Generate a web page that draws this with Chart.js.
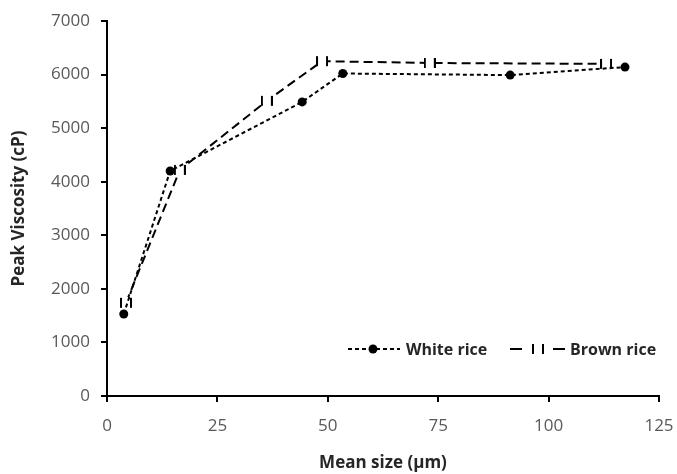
<!DOCTYPE html>
<html>
<head>
<meta charset="utf-8">
<script src="https://cdn.jsdelivr.net/npm/chart.js@4/dist/chart.umd.min.js"></script>
<style>
html,body{margin:0;padding:0;background:#fff;}
#wrap{width:677px;height:474px;position:relative;}
</style>
</head>
<body>
<div id="wrap"><canvas id="c" width="677" height="474"></canvas></div>
<script>
const seriesNames = ["White rice", "Brown rice"];
const whiteX = [3.8, 14.3, 44.2, 53.4, 91.3, 117.3];
const whiteY = [1530, 4200, 5490, 6020, 5990, 6140];
const brownX = [4.3, 16.5, 36.2, 48.7, 73.1, 113.0];
const brownY = [1740, 4220, 5510, 6250, 6216, 6200];
const xTicks = [0, 25, 50, 75, 100, 125];
const yTicks = [0, 1000, 2000, 3000, 4000, 5000, 6000, 7000];
const xTitle = "Mean size (µm)";
const yTitle = "Peak Viscosity (cP)";

const FONT = "'Open Sans', 'DejaVu Sans', sans-serif";

// custom "| |" marker for brown rice
function makeBarsMarker() {
  const c = document.createElement('canvas');
  c.width = 12; c.height = 12;
  const g = c.getContext('2d');
  g.fillStyle = '#fff';
  g.fillRect(2, 0, 8, 12);
  g.fillStyle = '#000';
  g.fillRect(0, 1, 2, 10);
  g.fillRect(10, 1, 2, 10);
  return c;
}
const barsMarker = makeBarsMarker();

const toPts = (xs, ys) => xs.map((x, i) => ({x: x, y: ys[i]}));

const legendPlugin = {
  id: 'customLegend',
  afterDraw(chart) {
    const ctx = chart.ctx;
    const ca = chart.chartArea;
    const y = ca.bottom - 47;
    ctx.save();
    ctx.strokeStyle = '#000';
    ctx.lineWidth = 2;
    // white rice sample
    let x0 = ca.left + 241;
    ctx.setLineDash([4, 3]);
    ctx.beginPath(); ctx.moveTo(x0, y); ctx.lineTo(x0 + 52, y); ctx.stroke();
    ctx.setLineDash([]);
    ctx.fillStyle = '#000';
    ctx.beginPath(); ctx.arc(x0 + 25, y, 4.5, 0, Math.PI * 2); ctx.fill();
    ctx.font = "bold 16px " + FONT;
    ctx.textBaseline = 'middle';
    ctx.fillStyle = '#262626';
    ctx.fillText(seriesNames[0], x0 + 58, y + 1);
    // brown rice sample
    let x1 = ca.left + 403;
    ctx.beginPath(); ctx.moveTo(x1, y); ctx.lineTo(x1 + 12, y); ctx.stroke();
    ctx.beginPath(); ctx.moveTo(x1 + 43, y); ctx.lineTo(x1 + 55, y); ctx.stroke();
    ctx.drawImage(barsMarker, x1 + 22, y - 6);
    ctx.fillStyle = '#262626';
    ctx.fillText(seriesNames[1], x1 + 60, y + 1);
    ctx.restore();
  }
};

new Chart(document.getElementById('c'), {
  type: 'line',
  data: {
    datasets: [
      {
        label: seriesNames[0],
        data: toPts(whiteX, whiteY),
        borderColor: '#000',
        backgroundColor: '#000',
        borderWidth: 2,
        borderDash: [4, 3],
        pointStyle: 'circle',
        pointRadius: 4.5,
        pointBackgroundColor: '#000',
        pointBorderColor: '#000',
        pointBorderWidth: 0,
        tension: 0,
        fill: false
      },
      {
        label: seriesNames[1],
        data: toPts(brownX, brownY),
        borderColor: '#000',
        backgroundColor: '#000',
        borderWidth: 2,
        borderDash: [9, 5],
        pointStyle: barsMarker,
        pointRadius: 6,
        tension: 0,
        fill: false
      }
    ]
  },
  options: {
    responsive: false,
    animation: false,
    devicePixelRatio: 1,
    layout: { padding: { top: 21, right: 18, left: 0, bottom: 0 } },
    plugins: {
      legend: { display: false },
      tooltip: { enabled: false }
    },
    scales: {
      x: {
        type: 'linear',
        min: 0, max: 125,
        afterBuildTicks(scale) { scale.ticks = xTicks.map(v => ({value: v})); },
        afterFit(scale) { scale.height = 78; scale.paddingLeft = 0; scale.paddingRight = 0; },
        ticks: { color: '#595959', font: { family: FONT, size: 17 }, padding: 14, maxRotation: 0, callback: v => String(v) },
        grid: { display: true, drawOnChartArea: false, drawTicks: true, tickLength: 6, color: '#000', lineWidth: 2 },
        border: { display: true, color: '#000', width: 2 },
        title: { display: true, text: xTitle, color: '#262626', font: { family: FONT, size: 17, weight: 'bold' }, padding: { top: 0, bottom: 1 } }
      },
      y: {
        type: 'linear',
        min: 0, max: 7000,
        afterBuildTicks(scale) { scale.ticks = yTicks.map(v => ({value: v})); },
        afterFit(scale) { scale.width = 107; scale.paddingTop = 0; scale.paddingBottom = 0; },
        ticks: { color: '#595959', font: { family: FONT, size: 17 }, padding: 11, callback: v => String(v) },
        grid: { display: true, drawOnChartArea: false, drawTicks: true, tickLength: 6, color: '#000', lineWidth: 2 },
        border: { display: true, color: '#000', width: 2 },
        title: { display: true, text: yTitle, color: '#262626', font: { family: FONT, size: 17, weight: 'bold' }, padding: { top: 9, bottom: 0 } }
      }
    }
  },
  plugins: [legendPlugin]
});
</script>
</body>
</html>
